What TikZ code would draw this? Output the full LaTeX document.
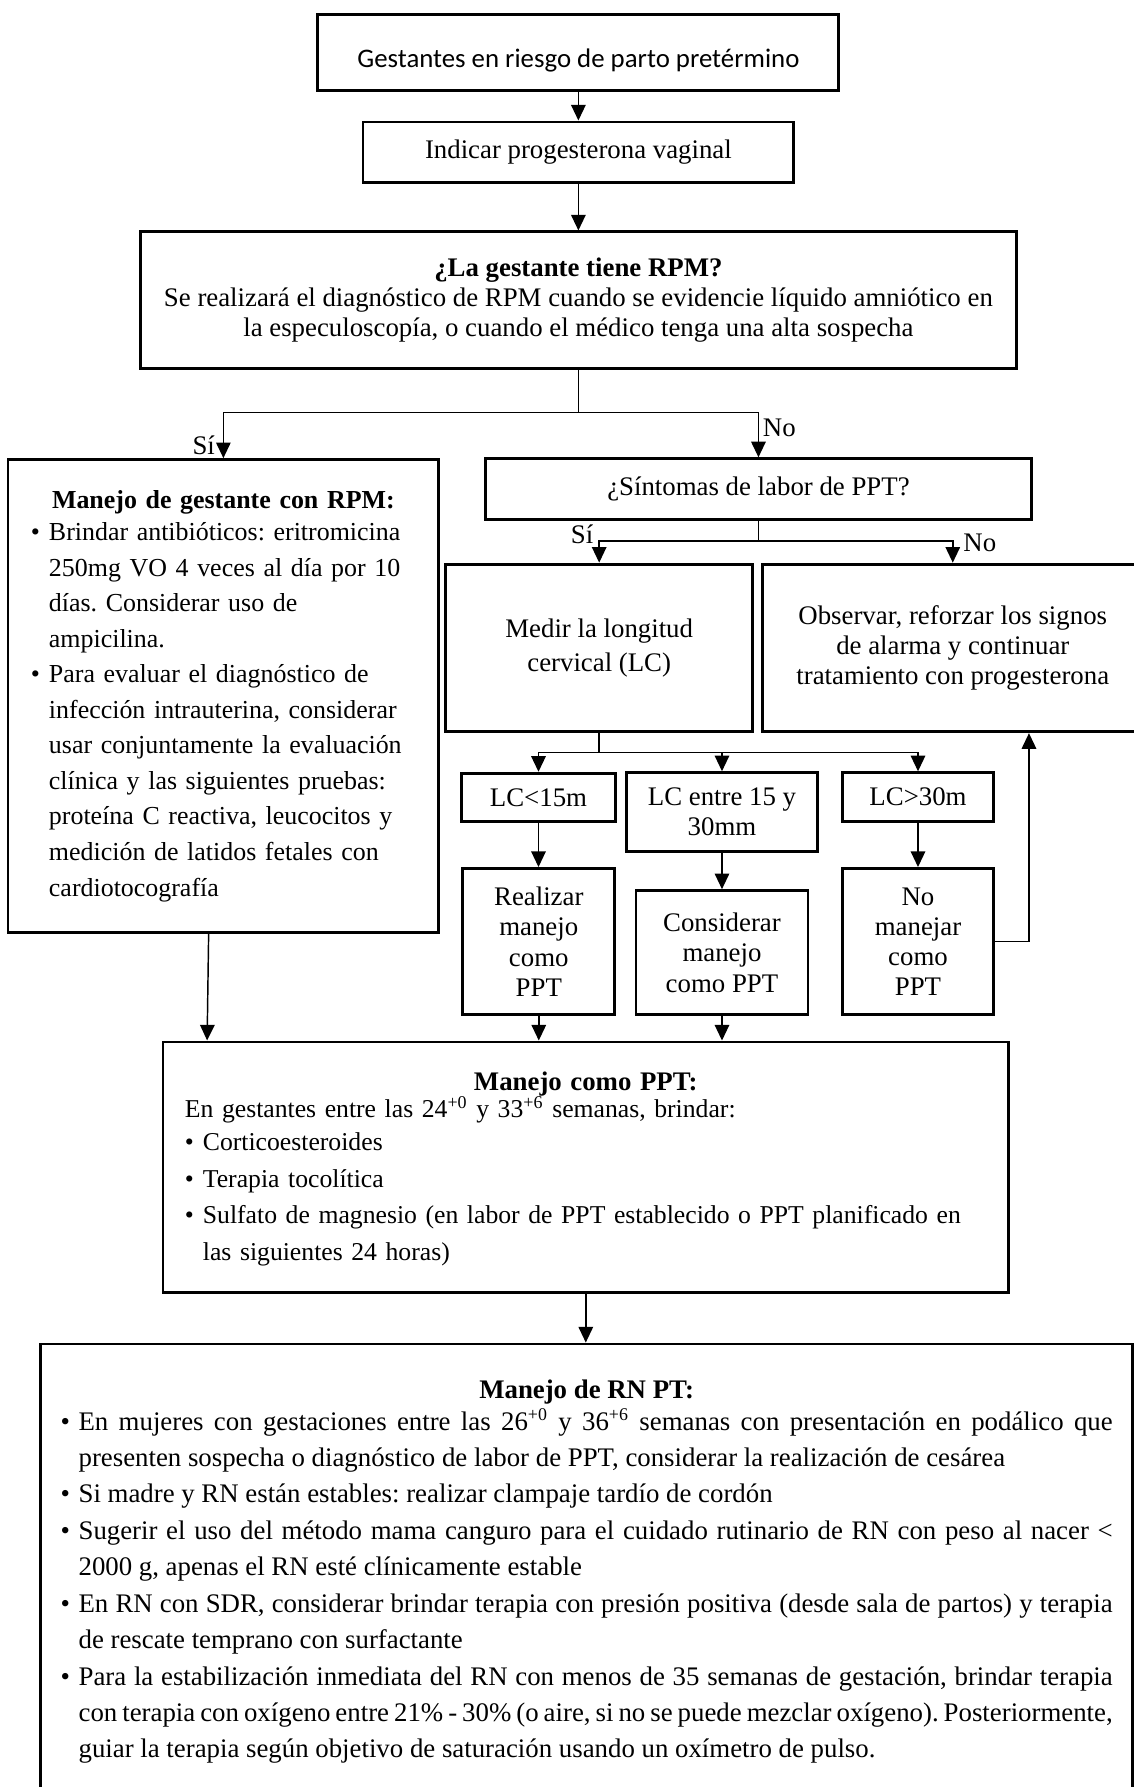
\documentclass[tikz,border=0pt]{standalone}
\usepackage{fontspec}
\setmainfont{Liberation Serif}
\newfontfamily\calibri{Carlito}
\usetikzlibrary{arrows.meta}

\newlength\sangria
\setlength\sangria{8.06pt}
\newcommand\vineta{\par\noindent\hangindent=\sangria\hangafter=1\makebox[\sangria][l]{\textbullet}}
\newcommand\ancho[1]{\hsize=\dimexpr\hsize+#1\relax}

\tikzset{
  caja/.style={draw, line width=1.3pt, inner sep=0pt, align=center},
  tam/.style 2 args={minimum width=#1, minimum height=#2},
  flecha/.style={line width=0.65pt, -{Triangle[length=7pt,width=6.5pt]}},
  linea/.style={line width=0.65pt},
  rotulo/.style={inner sep=0pt},
}

\begin{document}
\frenchspacing\hyphenpenalty=10000\exhyphenpenalty=10000
\begin{tikzpicture}[x=0.51pt, y=-0.51pt, font=\fontsize{12}{13.5}\selectfont]
                \useasboundingbox (0,0) rectangle (995,1568);
                %% Boxes
                \node[caja, tam={233.1pt}{33.7pt}, text height=23.5pt, text depth=10.2pt, font=\calibri\fontsize{12}{13.5}\selectfont] (inicio) at (507.5,46) {Gestantes en riesgo de parto pretérmino};
                \node[caja, tam={192.8pt}{27pt}] (proges) at (507.5,133.5) {Indicar progesterona vaginal};
                \node[caja, tam={392.2pt}{61.2pt}] (rpmq) at (507.5,263.5) {\textbf{¿La gestante tiene RPM?}\\ Se realizará el diagnóstico de RPM cuando se evidencie líquido amniótico en\\ la especuloscopía, o cuando el médico tenga una alta sospecha};
                \node[caja, anchor=north, align=left, text width=172.2pt, inner xsep=10.3pt, text height=21.7pt, text depth=190pt, font=\fontsize{11.6}{15.9}\selectfont] (rpm) at (196,402) {%
                  {\centering\textbf{Manejo de gestante con RPM:}\par}\vspace{-1.3pt}\ancho{12pt}
                  \vineta Brindar antibióticos: eritromicina\newline 250mg VO 4 veces al día por 10\newline días. Considerar uso de\newline ampicilina.
                  \vineta Para evaluar el diagnóstico de\newline infección intrauterina, considerar\newline usar conjuntamente la evaluación\newline clínica y las siguientes pruebas:\newline proteína C reactiva, leucocitos y\newline medición de latidos fetales con\newline cardiotocografía\par};
                \node[caja, tam={244.3pt}{27pt}] (sint) at (665.5,429) {¿Síntomas de labor de PPT?};
                \node[caja, tam={137.4pt}{75pt}] (medir) at (525.75,568.5) {Medir la longitud\\[1.8pt] cervical (LC)};
                \node[caja, tam={170.3pt}{75pt}] (observar) at (836,568.5) {Observar, reforzar los signos\\ de alarma y continuar\\ tratamiento con progesterona};
                \node[caja, tam={68.9pt}{21.7pt}] (lcmen) at (472.5,699.75) {LC<15m};
                \node[caja, tam={85.2pt}{35.2pt}] (lcent) at (633.5,712.5) {LC entre 15 y\\ 30mm};
                \node[caja, tam={67.8pt}{21.9pt}] (lcmay) at (805.5,699.5) {LC>30m};
                \node[caja, tam={68.1pt}{65.5pt}] (realizar) at (472.75,826.25) {Realizar\\ manejo\\ como\\ PPT};
                \node[caja, tam={77pt}{55.6pt}] (considerar) at (633.5,836) {Considerar\\ manejo\\ como PPT};
                \node[caja, tam={67.8pt}{65.5pt}] (nomanejar) at (805.5,826.25) {No\\ manejar\\ como\\ PPT};
                \node[caja, anchor=north, align=left, text width=358.8pt, inner xsep=9.8pt, text height=21.7pt, text depth=90.5pt, font=\fontsize{11.5}{16.3}\selectfont] (ppt) at (514,913) {%
                  {\centering\fontsize{12}{16.3}\selectfont\textbf{Manejo como PPT:}\par}\vspace{-4.1pt}\ancho{15pt}
                  En gestantes entre las 24\textsuperscript{+0} y 33\textsuperscript{+6} semanas, brindar:\par\vspace{-1.5pt}
                  \vineta Corticoesteroides
                  \vineta Terapia tocolítica
                  \vineta Sulfato de magnesio (en labor de PPT establecido o PPT planificado en\newline las siguientes 24 horas)\par};
                \node[caja, anchor=north, align=justify, text width=470.8pt, inner xsep=8.8pt, text height=24.5pt, text depth=190.7pt, font=\fontsize{12}{16.3}\selectfont] (rn) at (514.75,1178) {%
                  {\centering\textbf{Manejo de RN PT:}\par}\vspace{-2.3pt}
                  \vineta En mujeres con gestaciones entre las 26\textsuperscript{+0} y 36\textsuperscript{+6} semanas con presentación en podálico que\linebreak presenten sospecha o diagnóstico de labor de PPT, considerar la realización de cesárea
                  \vineta Si madre y RN están estables: realizar clampaje tardío de cordón
                  \vineta Sugerir el uso del método mama canguro para el cuidado rutinario de RN con peso al nacer <\linebreak 2000 g, apenas el RN esté clínicamente estable
                  \vineta En RN con SDR, considerar brindar terapia con presión positiva (desde sala de partos) y terapia\linebreak de rescate temprano con surfactante
                  \vineta Para la estabilización inmediata del RN con menos de 35 semanas de gestación, brindar terapia\linebreak con terapia con oxígeno entre 21\% - 30\% (o aire, si no se puede mezclar oxígeno). Posteriormente,\linebreak guiar la terapia según objetivo de saturación usando un oxímetro de pulso.\par};
                %% Branch points
                \coordinate (s1) at (507.5,362);
                \coordinate (s2) at (665.5,474.6);
                \coordinate (s3) at (525.75,660.5);
                %% Connectors
                \draw[flecha] (inicio) -- (proges);
                \draw[flecha] (proges) -- (rpmq);
                \draw[linea] (rpmq.south) -- (s1);
                \draw[flecha] (s1) -| (rpm.north);
                \draw[flecha] (s1) -| (sint.north);
                \draw[linea] (sint.south) -- (s2);
                \draw[flecha] (s2) -| (medir.north);
                \draw[flecha] (s2) -| (observar.north);
                \draw[linea] (medir.south) -- (s3);
                \draw[flecha] (s3) -| (lcmen.north);
                \draw[flecha] (s3) -| (lcent.north);
                \draw[flecha] (s3) -| (lcmay.north);
                \draw[flecha] (lcmen.south) -- (lcmen.south |- realizar.north);
                \draw[flecha] (lcent.south) -- (considerar.north);
                \draw[flecha] (lcmay.south) -- (nomanejar.north);
                \draw[flecha] (nomanejar.east) -| ([xshift=119.9pt]observar.south west);
                \draw[flecha] ([xshift=-6.6pt]rpm.south) -- ([xshift=20.4pt]ppt.north west);
                \draw[flecha] (realizar.south) -- (realizar.south |- ppt.north);
                \draw[flecha] (considerar.south) -- (considerar.south |- ppt.north);
                \draw[flecha] (ppt.south) -- (ppt.south |- rn.north);
                %% Labels
                \node[rotulo, anchor=base east] (si1) at (189,399) {Sí};
                \node[rotulo, anchor=base west] (no1) at (669,383) {No};
                \node[rotulo, anchor=base east] (si2) at (521,477) {Sí};
                \node[rotulo, anchor=base west] (no2) at (845,484) {No};
            \end{tikzpicture}
\end{document}
